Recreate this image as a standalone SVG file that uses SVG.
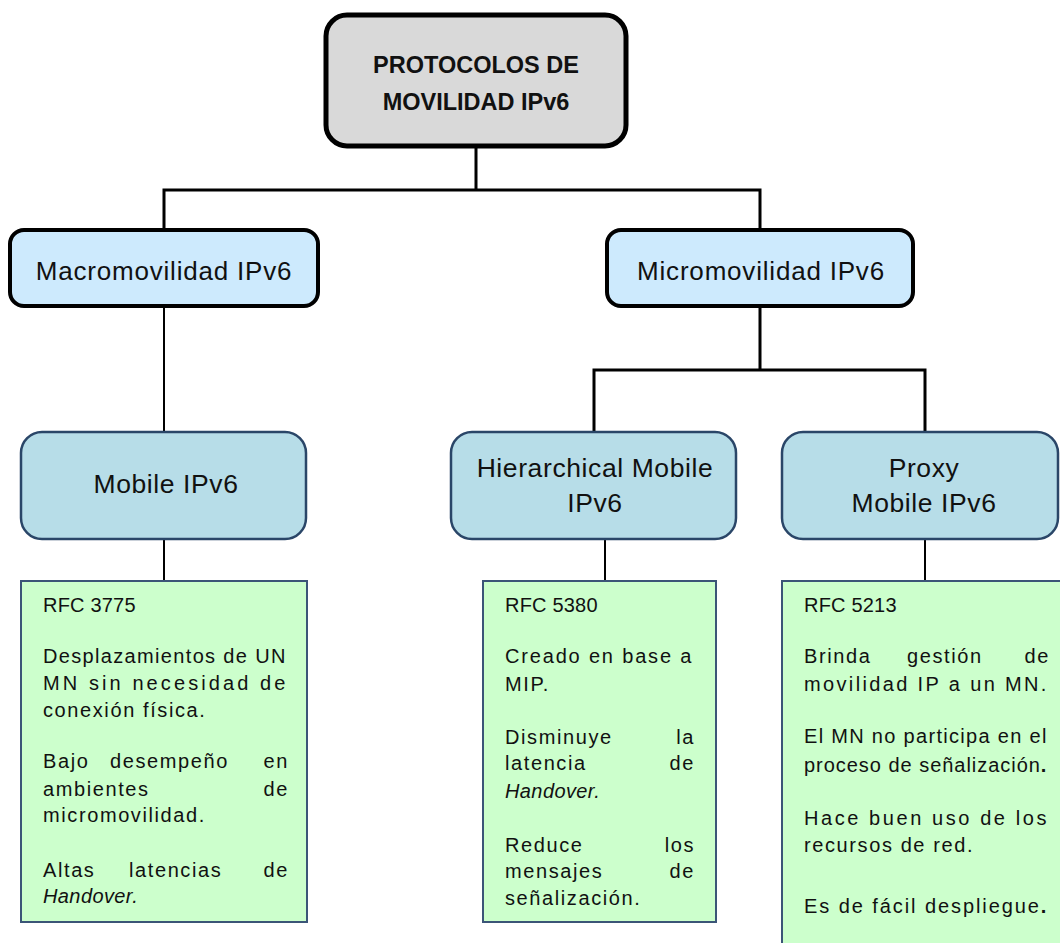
<svg xmlns="http://www.w3.org/2000/svg" width="1060" height="943" viewBox="0 0 1060 943">
  <style>
    text { font-family: "Liberation Sans", Arial, sans-serif; fill: #111; }
    .root-box { fill: #d9d9d9; stroke: #000; stroke-width: 5; }
    .cat-box { fill: #cdeafd; stroke: #000; stroke-width: 4; }
    .proto-box { fill: #b7dde8; stroke: #2a4668; stroke-width: 2.5; }
    .info-box { fill: #ccffcc; stroke: #3b5577; stroke-width: 2; }
    .root-label { font-size: 23.5px; font-weight: bold; text-anchor: middle; }
    .cat-label { font-size: 26px; letter-spacing: 0.8px; text-anchor: middle; }
    .proto-label { font-size: 26.5px; letter-spacing: 0.6px; text-anchor: middle; }
    .body { font-size: 20px; letter-spacing: 1.6px; }
    .rfc { font-size: 20px; letter-spacing: 0.2px; }
    .end { text-anchor: end; }
    .it { font-style: italic; letter-spacing: 0.4px; }
    .links path { fill: none; stroke: #000; }
  </style>

  <!-- connectors -->
  <g class="links">
    <path d="M476,148 V190 M164,228 V190 H760 V228" stroke-width="3"/>
    <path d="M164,308 V431" stroke-width="2"/>
    <path d="M760,308 V370 M594,431 V370 H925 V431" stroke-width="3"/>
    <path d="M164,540 V581" stroke-width="2"/>
    <path d="M605,540 V581" stroke-width="2"/>
    <path d="M925,540 V581" stroke-width="2"/>
  </g>

  <!-- root -->
  <g id="protocolos">
    <rect class="root-box" x="326" y="15" width="300" height="131" rx="21"/>
    <text class="root-label" x="476" y="73">PROTOCOLOS DE</text>
    <text class="root-label" x="476" y="110">MOVILIDAD IPv6</text>
  </g>

  <!-- categories -->
  <g id="macromovilidad">
    <rect class="cat-box" x="10" y="230" width="308" height="76" rx="14"/>
    <text class="cat-label" x="164" y="280">Macromovilidad IPv6</text>
  </g>
  <g id="micromovilidad">
    <rect class="cat-box" x="607" y="230" width="306" height="76" rx="14"/>
    <text class="cat-label" x="761" y="280">Micromovilidad IPv6</text>
  </g>

  <!-- protocols -->
  <g id="mobile-ipv6">
    <rect class="proto-box" x="21" y="432" width="285" height="107" rx="21"/>
    <text class="proto-label" x="166" y="493">Mobile IPv6</text>
  </g>
  <g id="hmipv6">
    <rect class="proto-box" x="451" y="432" width="285" height="107" rx="21"/>
    <text class="proto-label" x="595" y="477">Hierarchical Mobile</text>
    <text class="proto-label" x="595" y="512">IPv6</text>
  </g>
  <g id="pmipv6">
    <rect class="proto-box" x="782" y="432" width="276" height="107" rx="21"/>
    <text class="proto-label" x="924" y="477">Proxy</text>
    <text class="proto-label" x="924" y="512">Mobile IPv6</text>
  </g>

  <!-- details: Mobile IPv6 -->
  <g id="info-mipv6">
    <rect class="info-box" x="21" y="581" width="286" height="341"/>
    <text class="rfc" x="43" y="612">RFC 3775</text>
    <text class="body" x="43" y="663" textLength="244" lengthAdjust="spacing">Desplazamientos de UN</text>
    <text class="body" x="43" y="690" textLength="244" lengthAdjust="spacing">MN sin necesidad de</text>
    <text class="body" x="43" y="717">conexión física.</text>
    <text class="body" y="768"><tspan x="43">Bajo</tspan><tspan x="110">desempeño</tspan></text>
    <text class="body end" x="289" y="768">en</text>
    <text class="body" x="43" y="796">ambientes</text>
    <text class="body end" x="289" y="796">de</text>
    <text class="body" x="43" y="822">micromovilidad.</text>
    <text class="body" y="877"><tspan x="43">Altas</tspan><tspan x="129">latencias</tspan></text>
    <text class="body end" x="289" y="877">de</text>
    <text class="body it" x="43" y="903">Handover.</text>
  </g>

  <!-- details: Hierarchical Mobile IPv6 -->
  <g id="info-hmipv6">
    <rect class="info-box" x="483" y="581" width="233" height="341"/>
    <text class="rfc" x="505" y="612">RFC 5380</text>
    <text class="body" x="505" y="663" textLength="188" lengthAdjust="spacing">Creado en base a</text>
    <text class="body" x="505" y="691">MIP.</text>
    <text class="body" x="505" y="744">Disminuye</text>
    <text class="body end" x="695" y="744">la</text>
    <text class="body" x="505" y="770">latencia</text>
    <text class="body end" x="695" y="770">de</text>
    <text class="body it" x="505" y="798">Handover.</text>
    <text class="body" x="505" y="852">Reduce</text>
    <text class="body end" x="695" y="852">los</text>
    <text class="body" x="505" y="878">mensajes</text>
    <text class="body end" x="695" y="878">de</text>
    <text class="body" x="505" y="905">señalización.</text>
  </g>

  <!-- details: Proxy Mobile IPv6 -->
  <g id="info-pmipv6">
    <rect class="info-box" x="782" y="581" width="282" height="370"/>
    <text class="rfc" x="804" y="612">RFC 5213</text>
    <text class="body" y="663"><tspan x="804">Brinda</tspan><tspan x="907">gestión</tspan></text>
    <text class="body end" x="1050" y="663">de</text>
    <text class="body" x="804" y="691" textLength="244" lengthAdjust="spacing">movilidad IP a un MN.</text>
    <text class="body" x="804" y="743" textLength="244" lengthAdjust="spacing">El MN no participa en el</text>
    <text class="body" x="804" y="772" textLength="244" lengthAdjust="spacing">proceso de señalización<tspan font-weight="bold">.</tspan></text>
    <text class="body" x="804" y="825" textLength="244" lengthAdjust="spacing">Hace buen uso de los</text>
    <text class="body" x="804" y="852">recursos de red.</text>
    <text class="body" x="804" y="913" textLength="244" lengthAdjust="spacing">Es de fácil despliegue<tspan font-weight="bold">.</tspan></text>
  </g>
</svg>
